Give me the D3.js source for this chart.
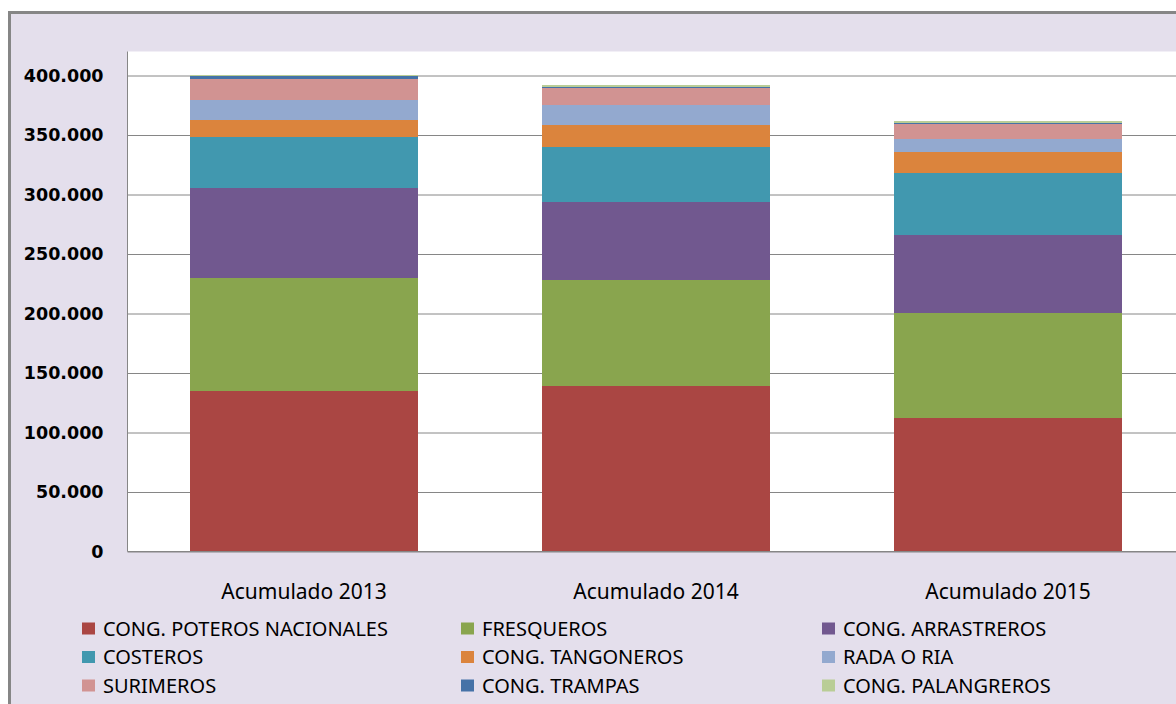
<!DOCTYPE html>
<meta charset="utf-8">
<style>
  body { margin: 0; background: #fff; }
</style>

<!-- Load d3.js -->
<script src="https://d3js.org/d3.v7.min.js"></script>

<!-- Create a div where the graph will take place -->
<div id="my_dataviz"></div>

<script>

// categories (one bar each)
var categories = ["Acumulado 2013", "Acumulado 2014", "Acumulado 2015"];

// series, bottom to top of the stack
var seriesNames = ["CONG. POTEROS NACIONALES", "FRESQUEROS", "CONG. ARRASTREROS",
                   "COSTEROS", "CONG. TANGONEROS", "RADA O RIA",
                   "SURIMEROS", "CONG. TRAMPAS", "CONG. PALANGREROS"];

var poteros     = [135000, 139200, 112300];
var fresqueros  = [95200, 89100, 88300];
var arrastreros = [75400, 65000, 65500];
var costeros    = [42900, 46200, 52100];
var tangoneros  = [14300, 19100, 17900];
var radaRia     = [16800, 16800, 10400];
var surimeros   = [17600, 14500, 13100];
var trampas     = [2800, 500, 800];
var palangreros = [300, 1800, 1400];

var seriesColors = ["#AA4643", "#89A54E", "#71588F", "#4198AF", "#DB843D",
                    "#93A9CF", "#D19392", "#4572A7", "#B9CD96"];

var yTicks = [0, 50000, 100000, 150000, 200000, 250000, 300000, 350000, 400000];

// build rows for d3.stack
var seriesValues = [poteros, fresqueros, arrastreros, costeros, tangoneros,
                    radaRia, surimeros, trampas, palangreros];
var rows = categories.map(function(c, i) {
  var row = { cat: c };
  seriesNames.forEach(function(s, j) { row[s] = seriesValues[j][i]; });
  return row;
});

var W = 1176, H = 704;
var plotLeft = 127.5, plotTop = 51.5, plotBottom = 551.5;

var svg = d3.select("#my_dataviz")
  .append("svg")
    .attr("width", W)
    .attr("height", H)
    .style("display", "block");

// outer chart frame (cut on the right and bottom like the screenshot)
svg.append("rect")
    .attr("x", 9.5)
    .attr("y", 12.5)
    .attr("width", W + 20)
    .attr("height", H + 20)
    .attr("fill", "#E4DFEC")
    .attr("stroke", "#868686")
    .attr("stroke-width", 3);

// plot area
svg.append("rect")
    .attr("x", plotLeft)
    .attr("y", plotTop)
    .attr("width", W - plotLeft + 10)
    .attr("height", plotBottom - plotTop)
    .attr("fill", "#fff");

// scales
var x = d3.scaleBand()
    .domain(categories)
    .range([128, 1184])
    .paddingInner(0.352)
    .paddingOuter(0.176);

var y = d3.scaleLinear()
    .domain([0, 400000])
    .range([plotBottom, 75.5]);

// spanish style thousands "400.000"
var loc = d3.formatLocale({ decimal: ",", thousands: ".", grouping: [3], currency: ["", ""] });
var fmt = loc.format(",");

// Y axis: gridlines + labels
var yAxis = svg.append("g")
    .attr("transform", "translate(" + plotLeft + ",0)")
    .call(d3.axisLeft(y)
      .tickValues(yTicks)
      .tickFormat(fmt)
      .tickSizeInner(-(W - plotLeft + 10))
      .tickSizeOuter(0)
      .tickPadding(24));
yAxis.select(".domain").remove();
yAxis.selectAll("line")
    .attr("stroke", "#868686")
    .attr("stroke-width", 1);
yAxis.selectAll("text")
    .attr("fill", "#000")
    .style("font-family", "DejaVu Sans")
    .style("font-weight", "bold")
    .style("font-size", "17.5px");

// stacked bars
var stack = d3.stack().keys(seriesNames);
var layers = stack(rows);

svg.append("g")
  .selectAll("g")
  .data(layers)
  .enter()
  .append("g")
    .attr("fill", function(d, i) { return seriesColors[i]; })
  .selectAll("rect")
  .data(function(d) { return d; })
  .enter()
  .append("rect")
    .attr("x", function(d) { return x(d.data.cat); })
    .attr("y", function(d) { return y(d[1]); })
    .attr("width", x.bandwidth())
    .attr("height", function(d) { return y(d[0]) - y(d[1]); })
    .attr("shape-rendering", "crispEdges");

// left axis line
svg.append("line")
    .attr("x1", plotLeft).attr("x2", plotLeft)
    .attr("y1", plotTop).attr("y2", plotBottom)
    .attr("stroke", "#868686");

// X axis labels
var xAxis = svg.append("g")
    .attr("transform", "translate(0," + plotBottom + ")")
    .call(d3.axisBottom(x).tickSize(0).tickPadding(0));
xAxis.select(".domain")
    .attr("stroke", "#868686")
    .attr("d", "M" + plotLeft + ",0H" + (W + 10));
xAxis.selectAll("text")
    .attr("y", 40)
    .attr("dy", "0.35em")
    .attr("fill", "#000")
    .style("font-family", "Noto Sans")
    .style("font-size", "21px");

// legend, 3 columns x 3 rows
var legX = [82, 461, 822];
var legY = [628.5, 657, 685.5];

var leg = svg.append("g")
  .selectAll("g")
  .data(seriesNames)
  .enter()
  .append("g")
    .attr("transform", function(d, i) {
      return "translate(" + legX[i % 3] + "," + legY[Math.floor(i / 3)] + ")";
    });

leg.append("rect")
    .attr("x", 0)
    .attr("y", -6)
    .attr("width", 13)
    .attr("height", 12)
    .attr("fill", function(d, i) { return seriesColors[i]; });

leg.append("text")
    .attr("x", 21)
    .attr("y", 0)
    .attr("dy", "0.35em")
    .style("font-family", "Noto Sans")
    .style("font-size", "20px")
    .attr("fill", "#000")
    .text(function(d) { return d; });

</script>
